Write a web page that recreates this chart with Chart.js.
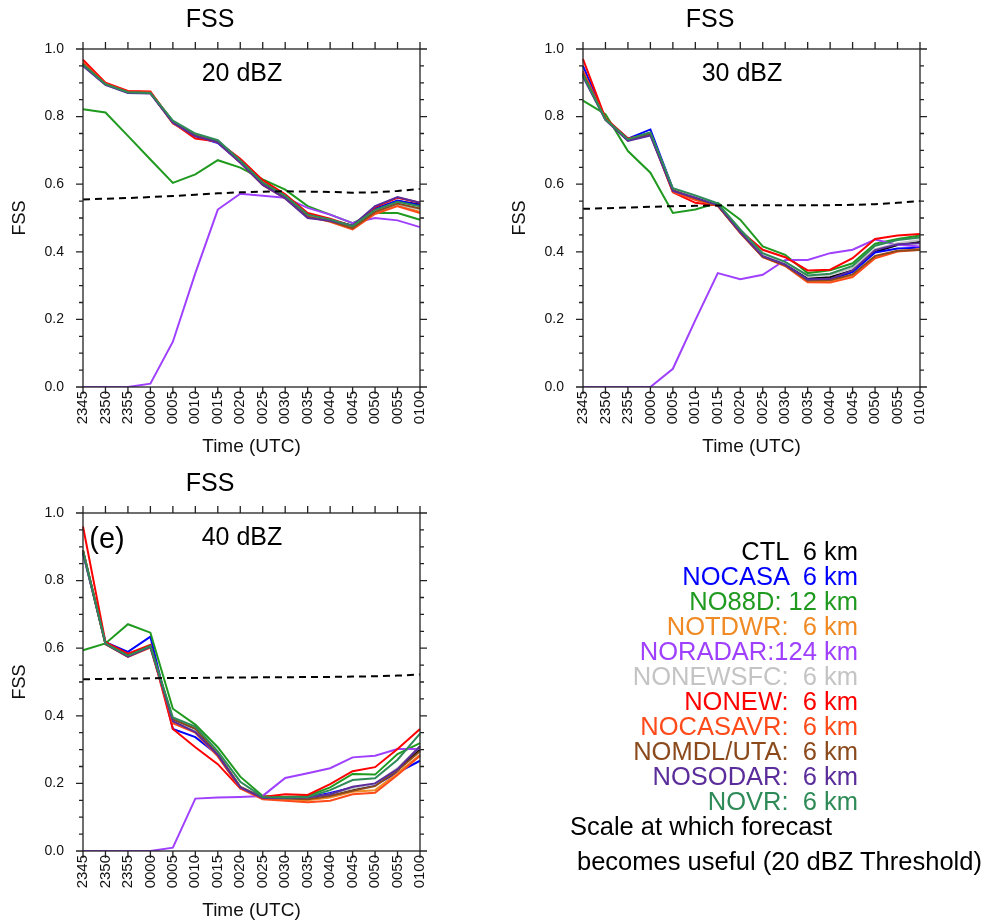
<!DOCTYPE html>
<html>
<head>
<meta charset="utf-8">
<script src="https://cdn.jsdelivr.net/npm/chart.js@4.4.1/dist/chart.umd.min.js"></script>
<style>
  body { margin: 0; background: #fff; width: 990px; height: 924px; position: relative; overflow: hidden;
         font-family: "Liberation Sans", Arial, sans-serif; }
  canvas { position: absolute; }
  #legend { position: absolute; left: 440px; top: 539px; width: 418px; text-align: right;
            font-size: 25.5px; line-height: 25px; white-space: pre; }
  .note { position: absolute; font-size: 25.5px; line-height: 25px; white-space: pre; color: #000; }
</style>
</head>
<body>
<canvas id="p20" width="460" height="465" style="left:0;top:0"></canvas>
<canvas id="p30" width="460" height="465" style="left:500px;top:0"></canvas>
<canvas id="p40" width="460" height="465" style="left:0;top:464px"></canvas>
<div id="legend"></div>
<div class="note" style="left:570px;top:814px">Scale at which forecast</div>
<div class="note" style="left:577px;top:849px">becomes useful (20 dBZ Threshold)</div>

<script>
// times on the x axis
const times = ['2345', '2350', '2355', '0000', '0005', '0010', '0015', '0020',
               '0025', '0030', '0035', '0040', '0045', '0050', '0055', '0100'];

const names = ['CTL', 'NOCASA', 'NO88D', 'NOTDWR', 'NORADAR', 'NONEWSFC',
               'NONEW', 'NOCASAVR', 'NOMDL/UTA', 'NOSODAR', 'NOVR'];
const legendText = ['CTL  6 km', 'NOCASA  6 km', 'NO88D: 12 km', 'NOTDWR:  6 km', 'NORADAR:124 km',
                    'NONEWSFC:  6 km', 'NONEW:  6 km', 'NOCASAVR:  6 km', 'NOMDL/UTA:  6 km',
                    'NOSODAR:  6 km', 'NOVR:  6 km'];
const colors = ['#000000', '#0000ff', '#1f9a1f', '#f08a24', '#a040ff', '#c4c4c4',
                '#ff0000', '#ff4a1a', '#8b4a1c', '#5b2d9b', '#2e8b57'];

// 20 dBZ
const ctl20      = [0.955, 0.896, 0.873, 0.871, 0.785, 0.745, 0.728, 0.668, 0.604, 0.565, 0.510, 0.495, 0.477, 0.525, 0.550, 0.540];
const nocasa20   = [0.952, 0.895, 0.872, 0.870, 0.784, 0.742, 0.722, 0.664, 0.600, 0.562, 0.505, 0.493, 0.474, 0.528, 0.552, 0.538];
const no88d20    = [0.822, 0.812, 0.743, 0.673, 0.604, 0.629, 0.671, 0.649, 0.614, 0.584, 0.535, 0.510, 0.485, 0.515, 0.515, 0.495];
const notdwr20   = [0.958, 0.897, 0.874, 0.872, 0.786, 0.746, 0.727, 0.667, 0.602, 0.563, 0.507, 0.490, 0.468, 0.515, 0.538, 0.518];
const noradar20  = [0.000, 0.000, 0.000, 0.010, 0.134, 0.337, 0.525, 0.572, 0.566, 0.560, 0.530, 0.510, 0.485, 0.500, 0.493, 0.473];
const nonewsfc20 = [0.953, 0.894, 0.871, 0.869, 0.785, 0.747, 0.728, 0.667, 0.600, 0.562, 0.508, 0.494, 0.471, 0.520, 0.540, 0.525];
const nonew20    = [0.968, 0.900, 0.876, 0.874, 0.782, 0.735, 0.726, 0.675, 0.612, 0.570, 0.515, 0.498, 0.476, 0.532, 0.560, 0.545];
const nocasavr20 = [0.960, 0.897, 0.873, 0.871, 0.780, 0.743, 0.724, 0.664, 0.598, 0.558, 0.505, 0.489, 0.466, 0.512, 0.535, 0.515];
const nomdl20    = [0.956, 0.896, 0.872, 0.870, 0.783, 0.744, 0.726, 0.666, 0.601, 0.561, 0.503, 0.491, 0.470, 0.518, 0.543, 0.528];
const nosodar20  = [0.950, 0.894, 0.870, 0.868, 0.782, 0.742, 0.725, 0.664, 0.598, 0.558, 0.500, 0.492, 0.478, 0.535, 0.562, 0.545];
const novr20     = [0.954, 0.896, 0.872, 0.870, 0.788, 0.750, 0.730, 0.670, 0.605, 0.566, 0.510, 0.496, 0.476, 0.524, 0.548, 0.535];
const useful20   = [0.555, 0.557, 0.559, 0.562, 0.565, 0.569, 0.573, 0.576, 0.578, 0.579, 0.578, 0.577, 0.575, 0.576, 0.580, 0.586];

// 30 dBZ
const ctl30      = [0.925, 0.792, 0.733, 0.752, 0.584, 0.563, 0.540, 0.460, 0.390, 0.365, 0.320, 0.325, 0.345, 0.400, 0.420, 0.430];
const nocasa30   = [0.950, 0.793, 0.735, 0.762, 0.586, 0.562, 0.538, 0.457, 0.386, 0.362, 0.318, 0.318, 0.340, 0.398, 0.410, 0.412];
const no88d30    = [0.847, 0.807, 0.698, 0.634, 0.515, 0.525, 0.545, 0.495, 0.416, 0.391, 0.337, 0.345, 0.366, 0.424, 0.438, 0.448];
const notdwr30   = [0.930, 0.792, 0.732, 0.750, 0.580, 0.555, 0.537, 0.458, 0.386, 0.360, 0.312, 0.314, 0.330, 0.385, 0.402, 0.408];
const noradar30  = [0.000, 0.000, 0.000, 0.000, 0.054, 0.198, 0.337, 0.319, 0.332, 0.376, 0.376, 0.396, 0.406, 0.436, 0.421, 0.416];
const nonewsfc30 = [0.922, 0.791, 0.733, 0.750, 0.585, 0.565, 0.541, 0.462, 0.392, 0.368, 0.328, 0.332, 0.352, 0.408, 0.425, 0.435];
const nonew30    = [0.970, 0.795, 0.735, 0.748, 0.576, 0.545, 0.537, 0.462, 0.406, 0.384, 0.345, 0.347, 0.381, 0.438, 0.448, 0.453];
const nocasavr30 = [0.935, 0.792, 0.731, 0.748, 0.577, 0.553, 0.536, 0.455, 0.384, 0.358, 0.310, 0.309, 0.325, 0.381, 0.401, 0.406];
const nomdl30    = [0.927, 0.791, 0.730, 0.749, 0.582, 0.558, 0.537, 0.457, 0.385, 0.360, 0.315, 0.316, 0.333, 0.388, 0.403, 0.405];
const nosodar30  = [0.918, 0.790, 0.728, 0.744, 0.580, 0.560, 0.538, 0.458, 0.387, 0.362, 0.318, 0.320, 0.345, 0.405, 0.422, 0.425];
const novr30     = [0.923, 0.792, 0.733, 0.753, 0.588, 0.567, 0.543, 0.466, 0.396, 0.370, 0.330, 0.335, 0.358, 0.418, 0.435, 0.442];
const useful30   = [0.527, 0.529, 0.531, 0.533, 0.535, 0.536, 0.537, 0.538, 0.538, 0.538, 0.538, 0.538, 0.539, 0.541, 0.545, 0.550];

// 40 dBZ
const ctl40      = [0.890, 0.614, 0.578, 0.605, 0.388, 0.358, 0.285, 0.190, 0.158, 0.157, 0.155, 0.165, 0.180, 0.195, 0.240, 0.300];
const nocasa40   = [0.880, 0.618, 0.589, 0.634, 0.361, 0.337, 0.285, 0.188, 0.157, 0.158, 0.158, 0.172, 0.188, 0.195, 0.232, 0.267];
const no88d40    = [0.594, 0.614, 0.671, 0.646, 0.421, 0.374, 0.307, 0.220, 0.163, 0.160, 0.163, 0.188, 0.228, 0.226, 0.287, 0.319];
const notdwr40   = [0.885, 0.612, 0.575, 0.603, 0.382, 0.352, 0.282, 0.188, 0.155, 0.152, 0.150, 0.158, 0.175, 0.180, 0.230, 0.285];
const noradar40  = [0.000, 0.000, 0.000, 0.000, 0.010, 0.155, 0.158, 0.160, 0.163, 0.216, 0.230, 0.245, 0.277, 0.282, 0.302, 0.302];
const nonewsfc40 = [0.885, 0.613, 0.576, 0.604, 0.385, 0.356, 0.284, 0.190, 0.157, 0.156, 0.156, 0.168, 0.185, 0.198, 0.245, 0.310];
const nonew40    = [0.960, 0.618, 0.584, 0.610, 0.361, 0.307, 0.257, 0.185, 0.160, 0.168, 0.166, 0.198, 0.236, 0.248, 0.302, 0.361];
const nocasavr40 = [0.890, 0.612, 0.574, 0.602, 0.378, 0.350, 0.280, 0.185, 0.153, 0.149, 0.144, 0.149, 0.168, 0.172, 0.225, 0.282];
const nomdl40    = [0.886, 0.612, 0.576, 0.608, 0.390, 0.362, 0.286, 0.190, 0.157, 0.155, 0.153, 0.163, 0.178, 0.192, 0.238, 0.295];
const nosodar40  = [0.884, 0.613, 0.575, 0.604, 0.384, 0.352, 0.284, 0.188, 0.157, 0.157, 0.158, 0.168, 0.190, 0.200, 0.242, 0.310];
const novr40     = [0.888, 0.614, 0.578, 0.606, 0.395, 0.368, 0.295, 0.205, 0.160, 0.158, 0.160, 0.180, 0.210, 0.215, 0.270, 0.347];
const useful40   = [0.508, 0.509, 0.510, 0.511, 0.512, 0.512, 0.513, 0.513, 0.514, 0.514, 0.515, 0.515, 0.516, 0.517, 0.519, 0.522];

const FONT = '"Liberation Sans", Arial, sans-serif';
Chart.defaults.font.family = FONT;
Chart.defaults.color = '#111';

// box with outward ticks on all four sides, plus the in-panel labels
const frame = {
  id: 'frame',
  afterDatasetsDraw(chart, args, opts) {
    const { ctx, chartArea: a, scales: { x, y } } = chart;
    ctx.save();
    ctx.strokeStyle = '#222';
    ctx.lineWidth = 1.3;
    ctx.strokeRect(a.left, a.top, a.right - a.left, a.bottom - a.top);
    ctx.beginPath();
    times.forEach((t, i) => {
      const px = x.getPixelForValue(i);
      ctx.moveTo(px, a.bottom); ctx.lineTo(px, a.bottom + 7);
      ctx.moveTo(px, a.top); ctx.lineTo(px, a.top - 7);
    });
    for (let k = 0; k <= 20; k++) {
      const py = y.getPixelForValue(k * 0.05);
      const len = k % 4 === 0 ? 7 : 4;
      ctx.moveTo(a.left - len, py); ctx.lineTo(a.left, py);
      ctx.moveTo(a.right, py); ctx.lineTo(a.right + len, py);
    }
    ctx.stroke();

    ctx.fillStyle = '#000';
    ctx.textAlign = 'center';
    ctx.textBaseline = 'middle';
    ctx.font = '25px ' + FONT;
    ctx.fillText(opts.threshold, a.left + 159, a.top + 25);
    if (opts.tag) {
      ctx.font = '29px ' + FONT;
      ctx.fillText(opts.tag, a.left + 24, a.top + 27);
    }
    ctx.restore();
  }
};

function makePanel(id, threshold, tag, series, useful) {
  const datasets = series.map((vals, k) => ({
    label: names[k],
    data: vals,
    borderColor: colors[k],
    borderWidth: 2,
    order: series.length - k
  }));
  datasets.push({
    label: 'useful',
    data: useful,
    borderColor: '#000',
    borderWidth: 2,
    borderDash: [7, 5],
    order: 0
  });

  new Chart(document.getElementById(id), {
    type: 'line',
    data: { labels: times, datasets: datasets },
    options: {
      responsive: false,
      animation: false,
      elements: { point: { radius: 0 }, line: { tension: 0, fill: false } },
      layout: { padding: { left: 0, right: 40, top: 0, bottom: 6 } },
      plugins: {
        legend: { display: false },
        tooltip: { enabled: false },
        title: {
          display: true,
          text: 'FSS',
          color: '#000',
          font: { size: 25, weight: 'normal' },
          padding: { top: 5, bottom: 14 }
        },
        frame: { threshold: threshold, tag: tag }
      },
      scales: {
        x: {
          type: 'category',
          offset: false,
          grid: { display: false, drawTicks: false },
          border: { display: false },
          ticks: { autoSkip: false, minRotation: 90, maxRotation: 90, padding: 4, font: { size: 15 } },
          title: { display: true, text: 'Time (UTC)', font: { size: 19 }, padding: { top: 0, bottom: 1 } },
          afterFit: s => { s.height = 72; s.paddingLeft = 0; s.paddingRight = 0; }
        },
        y: {
          min: 0,
          max: 1,
          grid: { display: false, drawTicks: false },
          border: { display: false },
          ticks: { stepSize: 0.2, padding: 19, font: { size: 14 }, callback: v => v.toFixed(1) },
          title: { display: true, text: 'FSS', font: { size: 18 }, padding: { top: 9, bottom: 0 } },
          afterFit: s => { s.width = 83; s.paddingTop = 0; s.paddingBottom = 0; }
        }
      }
    },
    plugins: [frame]
  });
}

makePanel('p20', '20 dBZ', '',
  [ctl20, nocasa20, no88d20, notdwr20, noradar20, nonewsfc20, nonew20, nocasavr20, nomdl20, nosodar20, novr20],
  useful20);
makePanel('p30', '30 dBZ', '',
  [ctl30, nocasa30, no88d30, notdwr30, noradar30, nonewsfc30, nonew30, nocasavr30, nomdl30, nosodar30, novr30],
  useful30);
makePanel('p40', '40 dBZ', '(e)',
  [ctl40, nocasa40, no88d40, notdwr40, noradar40, nonewsfc40, nonew40, nocasavr40, nomdl40, nosodar40, novr40],
  useful40);

// text legend, right aligned
const legend = document.getElementById('legend');
legendText.forEach((txt, k) => {
  const row = document.createElement('div');
  row.textContent = txt;
  row.style.color = colors[k];
  legend.appendChild(row);
});
</script>
</body>
</html>
